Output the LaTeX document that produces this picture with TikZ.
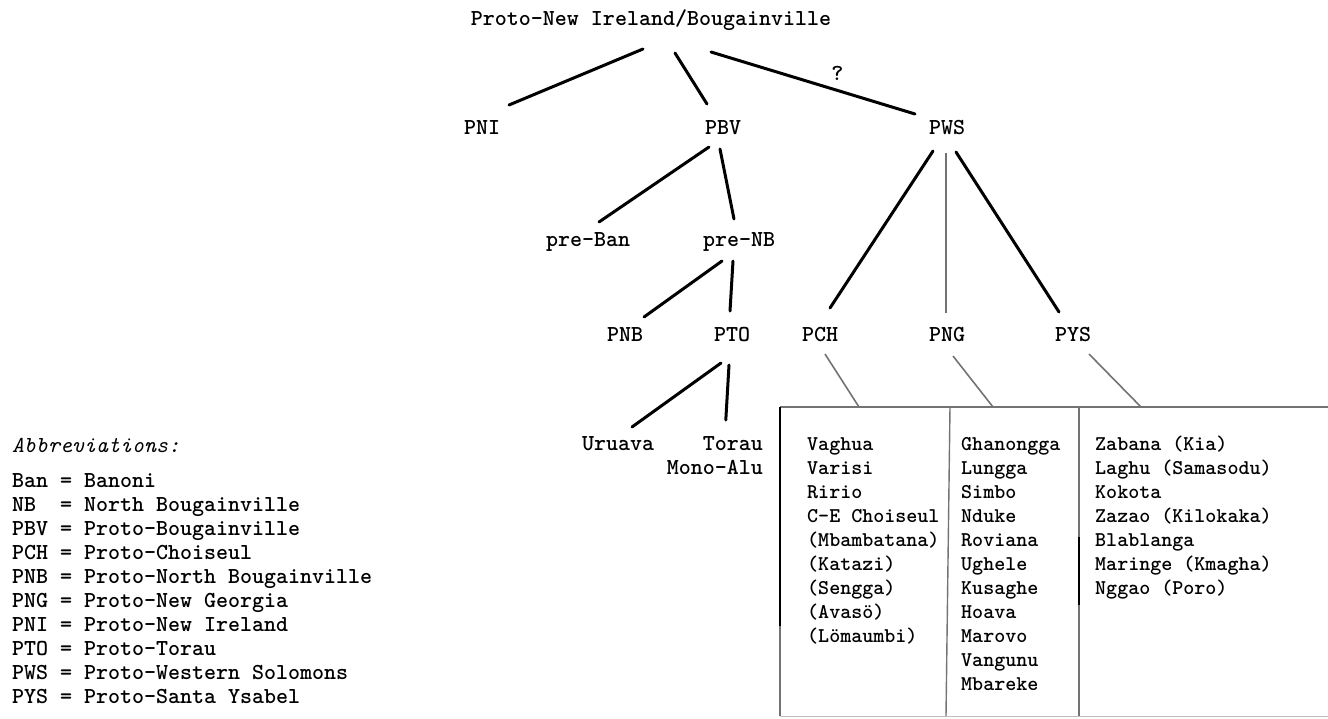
\documentclass[tikz,border=0pt]{standalone}
\usetikzlibrary{calc}
\begin{document}
\begin{tikzpicture}[x=1pt,y=-1pt,
  lbl/.style={inner sep=0pt,font=\fontsize{22.86}{24}\ttfamily\bfseries},
  item/.style={inner sep=0pt,font=\fontsize{21}{24}\ttfamily\bfseries,anchor=base west},
  branch/.style={line width=3pt,line cap=round},
  faint/.style={line width=1.6pt,draw=black!55},
  rule/.style={line width=1.4pt,draw=black!55}]
\useasboundingbox (0,0) rectangle (1328,718);

% ---- tree labels
\node[lbl,anchor=base] (root) at (651,25) {Proto-New Ireland/Bougainville};
\node[lbl,anchor=base] (pni) at (482,134) {PNI};
\node[lbl,anchor=base] (pbv) at (723,134) {PBV};
\node[lbl,anchor=base] (pws) at (947,134) {PWS};
\node[lbl,anchor=base] (preban) at (588,246) {pre-Ban};
\node[lbl,anchor=base] (prenb) at (739,246) {pre-NB};
\node[lbl,anchor=base] (pnb) at (625,341) {PNB};
\node[lbl,anchor=base] (pto) at (732,341) {PTO};
\node[lbl,anchor=base] (pch) at (820,341) {PCH};
\node[lbl,anchor=base] (png) at (947,341) {PNG};
\node[lbl,anchor=base] (pys) at (1073,341) {PYS};
\node[lbl,anchor=base] (uruava) at (618,450) {Uruava};
\node[lbl,anchor=base east] (torau) at (763,450) {Torau};
\node[lbl,anchor=base east] (monoalu) at (763,474) {Mono-Alu};

% ---- branches
\draw[branch] ([shift={(-8,24)}]root.base) -- ([shift={(27,-29)}]pni.base);
\draw[branch] ([shift={(24,28)}]root.base) -- ([shift={(-16,-30)}]pbv.base);
\draw[branch] ([shift={(60,27)}]root.base) -- ([shift={(-32,-20)}]pws.base)
  node[lbl,pos=0.62,above=8pt,font=\fontsize{23}{23}\ttfamily\bfseries] (q) {?};
\draw[branch] ([shift={(-14,13)}]pbv.base) -- ([shift={(11,-24)}]preban.base);
\draw[branch] ([shift={(-3,15)}]pbv.base) -- ([shift={(-5,-27)}]prenb.base);
\draw[branch] ([shift={(-17,15)}]prenb.base) -- ([shift={(19,-24)}]pnb.base);
\draw[branch] ([shift={(-6,15)}]prenb.base) -- ([shift={(-2,-30)}]pto.base);
\draw[branch] ([shift={(-11,22)}]pto.base) -- ([shift={(14,-23)}]uruava.base);
\draw[branch] ([shift={(-3,24)}]pto.base) -- ([shift={(-7,-30)}]torau.base);
\draw[branch] ([shift={(-14,17)}]pws.base) -- ([shift={(10,-33)}]pch.base);
\draw[line width=2.4pt,draw=black!55] ([shift={(-1,19)}]pws.base) -- ([shift={(-1,-28)}]png.base);
\draw[branch] ([shift={(9,18)}]pws.base) -- ([shift={(-14,-29)}]pys.base);

% ---- table of member languages
\coordinate (btl) at (780,407);
\coordinate (btr) at (1328,407);
\coordinate (bbl) at (780,716);
\coordinate (bbr) at (1328,716);
\coordinate (d1t) at (950,407);
\coordinate (d1b) at (946,716);
\coordinate (d2t) at (1079,407);
\coordinate (d2b) at (1079,716);
\coordinate (pchin) at (859,407);
\coordinate (pngin) at (993,407);
\coordinate (pysin) at (1141,407);

\draw[rule] (btl) -- (btr);
\draw[rule] (btl) -- (bbl);
\draw[line width=1pt,draw=black!25] (bbl) -- (bbr);
\draw[rule] (d1t) -- (d1b);
\draw[rule] (d2t) -- (d2b);
\draw[line width=2pt] (btl) -- ($(btl)!0.71!(bbl)$);
\draw[line width=2pt] (1079,537) -- (1079,605);

\draw[faint] ([shift={(5,13)}]pch.base) -- (pchin);
\draw[faint] ([shift={(6,15)}]png.base) -- (pngin);
\draw[faint] ([shift={(16,13)}]pys.base) -- (pysin);

\foreach \t [count=\i from 0] in {Vaghua,Varisi,Ririo,C-E Choiseul,(Mbambatana),(Katazi),(Sengga),(Avasö),(Lömaumbi)}
  \node[item] (ch\i) at (807,450+24*\i) {\t};
\foreach \t [count=\i from 0] in {Ghanongga,Lungga,Simbo,Nduke,Roviana,Ughele,Kusaghe,Hoava,Marovo,Vangunu,Mbareke}
  \node[item] (ng\i) at (961,450+24*\i) {\t};
\foreach \t [count=\i from 0] in {Zabana (Kia),Laghu (Samasodu),Kokota,Zazao (Kilokaka),Blablanga,Maringe (Kmagha),Nggao (Poro)}
  \node[item] (ys\i) at (1095,450+24*\i) {\t};

% ---- abbreviations
\node[lbl,anchor=base west,font=\fontsize{22.86}{24}\ttfamily\itshape] (abbr) at (12,452) {Abbreviations:};
\foreach \t [count=\i from 0] in {
  Ban~=~Banoni,
  NB~~=~North~Bougainville,
  PBV~=~Proto-Bougainville,
  PCH~=~Proto-Choiseul,
  PNB~=~Proto-North~Bougainville,
  PNG~=~Proto-New~Georgia,
  PNI~=~Proto-New~Ireland,
  PTO~=~Proto-Torau,
  PWS~=~Proto-Western~Solomons,
  PYS~=~Proto-Santa~Ysabel}
  \node[lbl,anchor=base west] (ab\i) at (12,487+24*\i) {\t};
\end{tikzpicture}
\end{document}
